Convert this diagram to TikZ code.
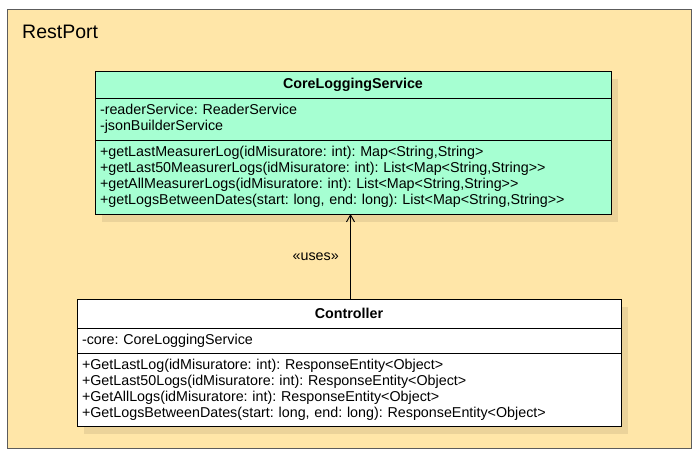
\documentclass[tikz,border=0pt]{standalone}
\usepackage{fontspec}
\setmainfont{Liberation Sans}
\usetikzlibrary{positioning, arrows.meta, fit, backgrounds}
\definecolor{pkgfill}{HTML}{FFE6A8}
\definecolor{pkgline}{HTML}{5C5C5C}
\definecolor{clsgreen}{HTML}{A6FFD2}
\newcommand{\umlfont}{\fontsize{14.3}{16}\selectfont}
\frenchspacing

\begin{document}
\begin{tikzpicture}[x=1pt, y=-1pt,
    pkg/.style={draw=pkgline, line width=1.3pt, fill=pkgfill,
    anchor=north west, inner sep=0pt},
    clshead/.style={draw=black, line width=0.9pt, font=\umlfont\bfseries,
    inner sep=0pt, outer sep=0pt, anchor=north west},
    clsbody/.style={draw=black, line width=0.9pt, font=\umlfont, align=left,
    inner xsep=5pt, inner ysep=0pt, outer sep=0pt},
    clsshadow/.style={fill=black, fill opacity=0.08, inner sep=0pt},
    uses/.style={-{Straight Barb[length=7pt, width=8pt]}, line width=0.9pt}
  ]
  \useasboundingbox (0,0) rectangle (699,456);

  \node[clshead, fill=clsgreen, minimum width=516pt, minimum height=27pt]
  (svchead) at (95,71) {CoreLoggingService};
  \node[clsbody, fill=clsgreen, below=0pt of svchead, text width=506pt,
  minimum height=42pt] (svcattr) {-readerService: ReaderService \\
  -jsonBuilderService};
  \node[clsbody, fill=clsgreen, below=0pt of svcattr, text width=506pt,
  minimum height=74pt] (svcmeth)
  {+getLastMeasurerLog(idMisuratore: int): Map<String,String> \\
  +getLast50MeasurerLogs(idMisuratore: int): List<Map<String,String>{}> \\
  +getAllMeasurerLogs(idMisuratore: int): List<Map<String,String>{}> \\
  +getLogsBetweenDates(start: long, end: long): List<Map<String,String>{}>};

  \node[clshead, fill=white, minimum width=544pt, minimum height=29pt]
  (ctrlhead) at (77,299) {Controller};
  \node[clsbody, fill=white, below=0pt of ctrlhead, text width=534pt,
  minimum height=25pt] (ctrlattr) {-core: CoreLoggingService};
  \node[clsbody, fill=white, below=0pt of ctrlattr, text width=534pt,
  minimum height=73pt] (ctrlmeth)
  {+GetLastLog(idMisuratore: int): ResponseEntity<Object> \\
  +GetLast50Logs(idMisuratore: int): ResponseEntity<Object> \\
  +GetAllLogs(idMisuratore: int): ResponseEntity<Object> \\
  +GetLogsBetweenDates(start: long, end: long): ResponseEntity<Object>};

  \begin{scope}[on background layer]
    \node[pkg, minimum width=684pt, minimum height=439pt] (restport) at (7,9) {};
    \node[clsshadow, fit=(svchead)(svcmeth), xshift=7pt, yshift=-8pt] (svcshadow) {};
    \node[clsshadow, fit=(ctrlhead)(ctrlmeth), xshift=7pt, yshift=-8pt] (ctrlshadow) {};
  \end{scope}
  \node[font=\fontsize{19.5}{22}\selectfont, anchor=west, inner sep=0pt]
  (pkgname) at (22,32) {RestPort};

  \draw[uses] ([xshift=1.5pt]ctrlhead.north) -- ([xshift=1.5pt]ctrlhead.north |- svcmeth.south)
  node[midway, left=8pt, font=\umlfont] (useslbl) {«uses»};
\end{tikzpicture}
\end{document}
